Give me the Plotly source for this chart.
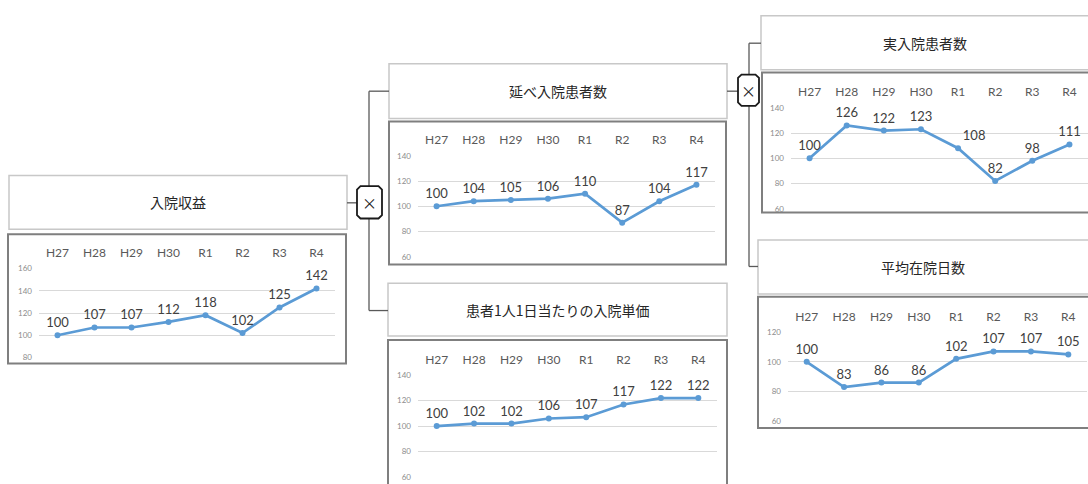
import plotly.graph_objects as go

W, H = 1088, 484

categories = ["H27", "H28", "H29", "H30", "R1", "R2", "R3", "R4"]

titles = ["入院収益", "延べ入院患者数", "実入院患者数", "患者1人1日当たりの入院単価", "平均在院日数"]

revenue = [100, 107, 107, 112, 118, 102, 125, 142]
total_patient_days = [100, 104, 105, 106, 110, 87, 104, 117]
actual_patients = [100, 126, 122, 123, 108, 82, 98, 111]
unit_price = [100, 102, 102, 106, 107, 117, 122, 122]
avg_stay = [100, 83, 86, 86, 102, 107, 107, 105]

series = [revenue, total_patient_days, actual_patients, unit_price, avg_stay]
y_ranges = [[80, 160], [60, 140], [60, 140], [60, 140], [60, 120]]

# layout geometry (pixels)
plot_px = [  # x0, x1, y_top, y_bottom of gridline area
    (39, 335, 269, 360),
    (418, 715, 154, 257),
    (791, 1088, 105, 208),
    (418, 717, 378, 482),
    (788, 1087, 334, 425),
]
title_box = [(9, 174, 347, 229), (389, 60, 727, 116), (761, 11, 1100, 66),
             (388, 284, 727, 338), (758, 240, 1100, 295)]
chart_box = [(8, 234, 346, 366), (389, 119, 726, 265), (762, 69, 1100, 212),
             (388, 342, 727, 500), (758, 298, 1100, 432)]


def px(x):
    return x / W


def py(y):
    return 1 - y / H


fig = go.Figure()
layout = dict(width=W, height=H, margin=dict(l=0, r=0, t=0, b=0),
              paper_bgcolor="white", plot_bgcolor="rgba(0,0,0,0)",
              showlegend=False, shapes=[], annotations=[])

LINE_COLOR = "#5b9bd5"
for i, (vals, yr, (x0, x1, yt, yb)) in enumerate(zip(series, y_ranges, plot_px)):
    n = "" if i == 0 else str(i + 1)
    pos = ["top center"] * len(vals)
    if i == 2:
        pos[4] = "top right"
    fig.add_trace(go.Scatter(
        x=categories, y=vals, mode="lines+markers+text",
        text=[str(v) for v in vals], textposition=pos,
        textfont=dict(family="Lato, Noto Sans", size=13, color="#404040"),
        line=dict(color=LINE_COLOR, width=2.7),
        marker=dict(color=LINE_COLOR, size=6),
        cliponaxis=False, hoverinfo="skip",
        xaxis="x" + n, yaxis="y" + n))
    layout["xaxis" + n] = dict(
        domain=[px(x0), px(x1)], range=[-0.5, 7.5], anchor="y" + n,
        side="top", showgrid=False, showline=False, zeroline=False,
        ticks="", ticklabelstandoff=8, type="category",
        tickfont=dict(family="Lato, Noto Sans", size=12, color="#595959"),
        fixedrange=True)
    layout["yaxis" + n] = dict(
        domain=[py(yb), py(yt)], range=yr, anchor="x" + n,
        tickvals=list(range(yr[0], yr[1] + 1, 20)),
        showgrid=True, gridcolor="#d9d9d9", gridwidth=1,
        showline=False, zeroline=False, ticks="", ticklabelstandoff=6,
        tickfont=dict(family="Lato, Noto Sans", size=8, color="#8c8c8c"),
        fixedrange=True)

# boxes
for (a, b, c, d) in chart_box:
    layout["shapes"].append(dict(type="rect", xref="paper", yref="paper",
                                 x0=px(a), x1=px(c), y0=py(d), y1=py(b),
                                 line=dict(color="#7f7f7f", width=2), layer="below"))
for (a, b, c, d), t in zip(title_box, titles):
    layout["shapes"].append(dict(type="rect", xref="paper", yref="paper",
                                 x0=px(a), x1=px(c), y0=py(d), y1=py(b),
                                 line=dict(color="#c8c8c8", width=1.5), layer="below"))
    cx = (a + c) / 2 if c <= 1088 else (a + 1088) / 2
    layout["annotations"].append(dict(
        x=px(cx), y=py((b + d) / 2), xref="paper", yref="paper",
        text=t, showarrow=False, xanchor="center", yanchor="middle",
        font=dict(family="Noto Sans CJK JP", size=14, color="#262626")))

# connector lines
conn = [
    (347, 202, 357, 202),
    (369, 88, 369, 312),
    (369, 88, 389, 88),
    (369, 312, 388, 312),
    (727, 88, 738, 88),
    (749, 39, 749, 267),
    (749, 39, 761, 39),
    (749, 267, 758, 267),
]
for (a, b, c, d) in conn:
    layout["shapes"].append(dict(type="line", xref="paper", yref="paper",
                                 x0=px(a), y0=py(b), x1=px(c), y1=py(d),
                                 line=dict(color="#595959", width=1.3)))

# multiplication boxes
for (a, b, c, d) in [(357, 185, 382, 218), (738, 71, 759, 103)]:
    k = 3.5
    pts = [(a + k, b), (c - k, b), (c, b + k), (c, d - k), (c - k, d), (a + k, d), (a, d - k), (a, b + k)]
    path = "M " + " L ".join(f"{px(x):.5f},{py(y):.5f}" for x, y in pts) + " Z"
    layout["shapes"].append(dict(type="path", xref="paper", yref="paper", path=path,
                                 fillcolor="white", line=dict(color="#1a1a1a", width=1.8),
                                 layer="above"))
    layout["annotations"].append(dict(
        x=px((a + c) / 2), y=py((b + d) / 2), xref="paper", yref="paper",
        text="×", showarrow=False, xanchor="center", yanchor="middle",
        font=dict(family="Noto Sans CJK JP", size=15, color="#1a1a1a")))

fig.update_layout(**layout)
fig.write_html("out.html", config={"displayModeBar": False},
               post_script="document.body.style.margin='0';document.body.style.overflow='hidden';")
